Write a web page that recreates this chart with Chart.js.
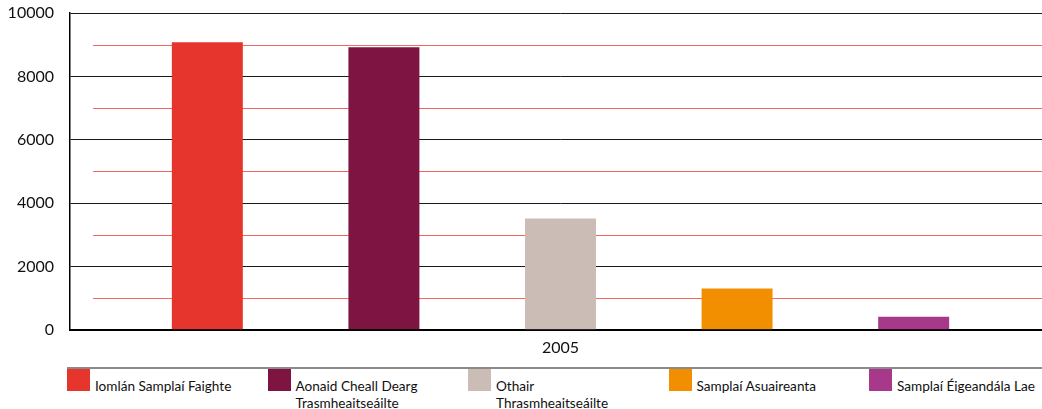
<!DOCTYPE html>
<html><head><meta charset="utf-8">
<script src="https://cdn.jsdelivr.net/npm/chart.js@4/dist/chart.umd.min.js"></script>
<style>
html,body{margin:0;padding:0;background:#fff;overflow:hidden;width:1042px;height:409px;}
#wrap{position:absolute;left:0;top:0;width:1042px;height:365px;overflow:hidden;}
#cw{position:absolute;left:0;top:0;width:1051px;height:365px;}
#legend{position:absolute;left:67px;top:367px;width:975px;height:42px;border-top:2px solid #8a8a8a;font-family:Lato,"Open Sans",sans-serif;font-size:13.6px;color:#111;}
.li{position:absolute;top:0;}
.li .bx{position:absolute;left:0;top:0;width:23px;height:22px;}
.li .tx{position:absolute;left:28px;top:9px;line-height:17px;white-space:nowrap;}
</style></head>
<body>
<div id="wrap"><div id="cw"><canvas id="c"></canvas></div></div>
<div id="legend"></div>
<script>
const categories = ["2005"];
const seriesNames = [
  "Iomlán Samplaí Faighte",
  "Aonaid Cheall Dearg\nTrasmheaitseáilte",
  "Othair\nThrasmheaitseáilte",
  "Samplaí Asuaireanta",
  "Samplaí Éigeandála Lae"
];
const seriesValues = [[9080],[8920],[3510],[1300],[410]];
const seriesColors = ["#E5352C","#7D1441","#CBBDB5","#F18F00","#A8398A"];
const yTicks = [0,2000,4000,6000,8000,10000];
const minorLines = [1000,3000,5000,7000,9000];

const minorPlugin = {
  id:'minor',
  beforeDatasetsDraw(chart){
    const y = chart.scales.y, a = chart.chartArea, ctx = chart.ctx;
    ctx.save();
    ctx.strokeStyle = '#EF6A62';
    ctx.lineWidth = 1;
    minorLines.forEach(v=>{
      const py = Math.round(y.getPixelForValue(v))+0.5;
      ctx.beginPath(); ctx.moveTo(a.left+23, py); ctx.lineTo(a.right, py); ctx.stroke();
    });
    ctx.restore();
  }
};

const chart = new Chart(document.getElementById('c'), {
  type:'bar',
  data:{
    labels: categories,
    datasets: seriesNames.map((n,i)=>({label:n, data:seriesValues[i], backgroundColor:seriesColors[i], borderWidth:0}))
  },
  options:{
    responsive:true, maintainAspectRatio:false, animation:false,
    layout:{padding:{top:13,right:0,left:0,bottom:0}},
    datasets:{bar:{categoryPercentage:0.9, barPercentage:0.402}},
    plugins:{legend:{display:false}, tooltip:{enabled:false}},
    scales:{
      x:{
        grid:{display:false, drawTicks:false},
        border:{display:true,color:'#000',width:2},
        ticks:{color:'#111',font:{family:'Lato, "Open Sans", sans-serif',size:16},padding:8}
      },
      y:{
        min:0,max:10000,
        afterBuildTicks(s){ s.ticks = yTicks.map(v=>({value:v})); },
        afterFit(s){ s.width = 70; s.paddingTop = 0; s.paddingBottom = 0; },
        grid:{color:'#1a1a1a',lineWidth:1,drawTicks:false},
        border:{display:true,color:'#000',width:1.5},
        ticks:{color:'#111',font:{family:'Lato, "Open Sans", sans-serif',size:16},padding:16,callback:(v)=>String(v)}
      }
    }
  },
  plugins:[minorPlugin]
});

const leg = document.getElementById('legend');
chart.data.datasets.forEach((ds,i)=>{
  const d = document.createElement('div'); d.className='li'; d.style.left=(i*200.5)+'px';
  const b = document.createElement('div'); b.className='bx'; b.style.background=ds.backgroundColor;
  const t = document.createElement('div'); t.className='tx';
  ds.label.split('\n').forEach((line,k)=>{ if(k) t.appendChild(document.createElement('br')); t.appendChild(document.createTextNode(line)); });
  d.appendChild(b); d.appendChild(t); leg.appendChild(d);
});
</script>
</body></html>
